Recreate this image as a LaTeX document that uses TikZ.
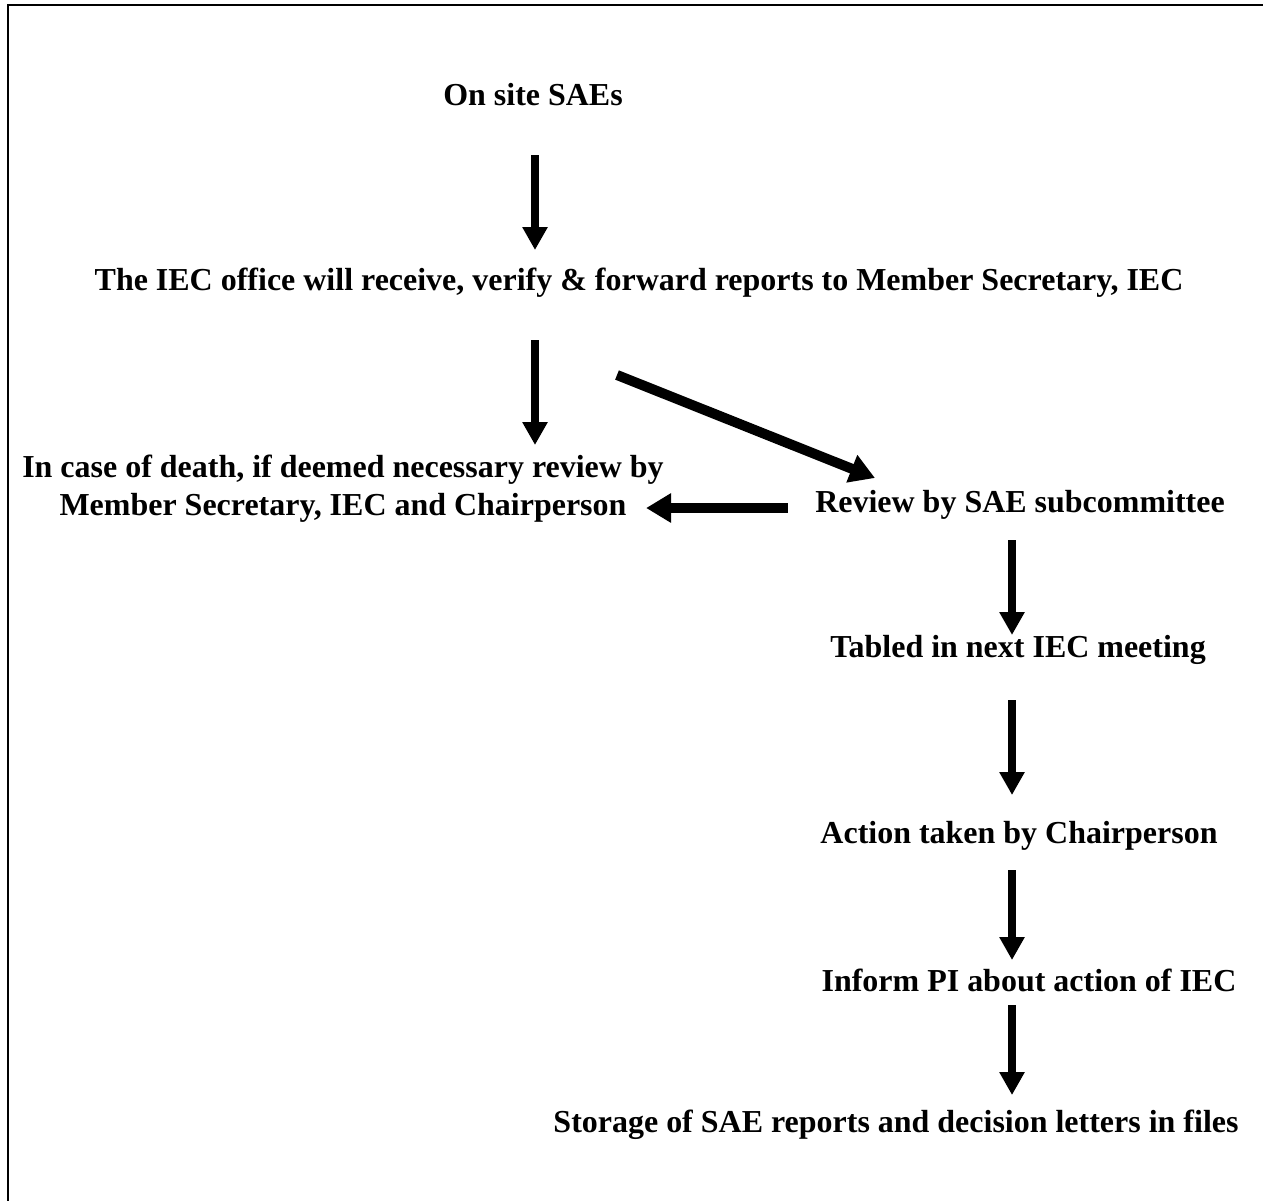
\documentclass[tikz,border=0pt]{standalone}
\usepackage{fontspec}
\setmainfont{Liberation Serif}
\usetikzlibrary{arrows.meta,calc}
\begin{document}
\begin{tikzpicture}[x=0.02cm,y=-0.02cm,
  label/.style={font=\fontsize{18.2}{21.5}\selectfont\bfseries, inner sep=0pt, align=center},
  oneline/.style={label, text height=0.7em, text depth=0.22em},
  flow/.style={line width=0.16cm, -{Triangle[width=0.48cm,length=0.46cm]}},
  flowthick/.style={line width=0.2cm, -{Triangle[width=0.56cm,length=0.5cm]}}]
  \useasboundingbox (0,0) rectangle (1263,1200);
  % page frame (left and top edges in view)
  \draw[line width=0.06cm] (8,1210) -- (8,5) -- (1270,5);

  % steps
  \node[oneline] (sae)   at (533,101)  {On site SAEs};
  \node[oneline] (ofc)   at (639,286)  {The IEC office will receive, verify \& forward reports to Member Secretary, IEC};
  \node[label]   (death) at (343,489)  {In case of death, if deemed necessary review by\\Member Secretary, IEC and Chairperson};
  \node[oneline] (rev)   at (1020,508) {Review by SAE subcommittee};
  \node[oneline] (tab)   at (1018,653) {Tabled in next IEC meeting};
  \node[oneline] (act)   at (1019,839) {Action taken by Chairperson};
  \node[oneline] (inf)   at (1029,987) {Inform PI about action of IEC};
  \node[oneline] (sto)   at (896,1128) {Storage of SAE reports and decision letters in files};

  % arrow columns
  \coordinate (colL) at (535,0);
  \coordinate (colR) at (1012,0);

  % connectors
  \draw[flow] ($(sae.center -| colL)+(0,54)$) -- ($(ofc.center -| colL)+(0,-36)$);
  \draw[flow] ($(ofc.center -| colL)+(0,54)$) -- ($(death.center -| colL)+(0,-44)$);
  \draw[flowthick] ($(ofc.center)+(-22,89)$) -- ($(rev.center)+(-145,-30)$);
  \draw[flowthick] ($(rev.west)+(-27,0)$) -- ($(death.east |- rev.west)+(-18,0)$);
  \draw[flow] ($(rev.center -| colR)+(0,32)$) -- ($(tab.center -| colR)+(0,-18)$);
  \draw[flow] ($(tab.center -| colR)+(0,47)$) -- ($(act.center -| colR)+(0,-44)$);
  \draw[flow] ($(act.center -| colR)+(0,31)$) -- ($(inf.center -| colR)+(0,-27)$);
  \draw[flow] ($(inf.center -| colR)+(0,18)$) -- ($(sto.center -| colR)+(0,-33)$);
\end{tikzpicture}
\end{document}
